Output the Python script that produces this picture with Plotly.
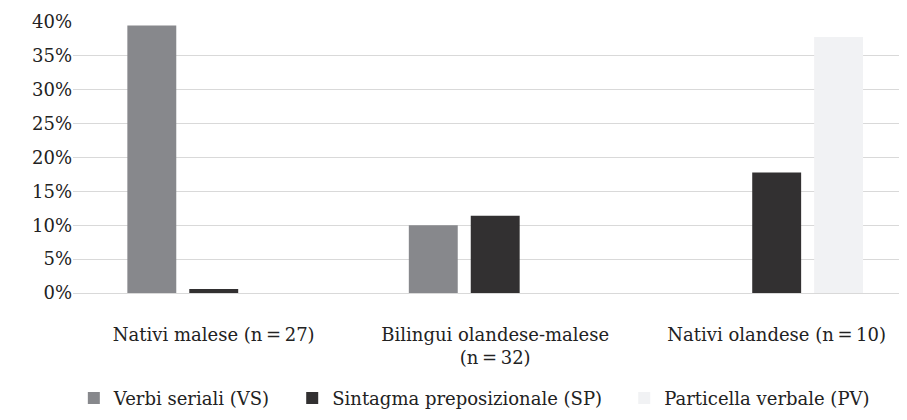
import plotly.graph_objects as go

categories = ["Nativi malese (n\u2009=\u200927)",
              "Bilingui olandese-malese<br>(n\u2009=\u200932)",
              "Nativi olandese (n\u2009=\u200910)"]
vs_values = [39.5, 10.0, 0.0]
sp_values = [0.6, 11.4, 17.8]
pv_values = [0.0, 0.0, 37.8]
tick_vals = [0, 5, 10, 15, 20, 25, 30, 35, 40]
tick_text = [f"{v}%" for v in tick_vals]

font_family = "DejaVu Serif"
pad = "\u00a0" * 3

fig = go.Figure()
fig.add_trace(go.Bar(x=categories, y=vs_values, name="Verbi seriali (VS)" + pad,
                     marker=dict(color="#87888c", line=dict(width=0))))
fig.add_trace(go.Bar(x=categories, y=sp_values, name="Sintagma preposizionale (SP)" + pad,
                     marker=dict(color="#323031", line=dict(width=0))))
fig.add_trace(go.Bar(x=categories, y=pv_values, name="Particella verbale (PV)",
                     marker=dict(color="#f1f2f4", line=dict(width=0))))

# the page body adds an 8px offset, so the figure is a bit smaller than the window
# the original chart is cut off on the right, hence the short x range
fig.update_layout(
    width=899, height=412,
    barmode="group", bargap=0.34, bargroupgap=0.21,
    plot_bgcolor="white", paper_bgcolor="white",
    font=dict(family=font_family, size=18, color="#222222"),
    margin=dict(l=65, r=0, t=14, b=127, autoexpand=False),
    showlegend=True,
    legend=dict(orientation="h", x=0.001, xanchor="left", y=-0.32, yanchor="top",
                font=dict(size=18), traceorder="normal"),
    xaxis=dict(range=[-0.5, 2.463], showline=False, ticks="", tickfont=dict(size=18),
               ticklabelstandoff=29, automargin=False),
    yaxis=dict(range=[0, 40], tickvals=tick_vals, ticktext=tick_text,
               showgrid=True, gridcolor="#d9d9d9", gridwidth=1,
               zeroline=True, zerolinecolor="#d9d9d9", zerolinewidth=1,
               showline=False, ticks="", tickfont=dict(size=18), automargin=False),
)

fig.write_html("out.html")
